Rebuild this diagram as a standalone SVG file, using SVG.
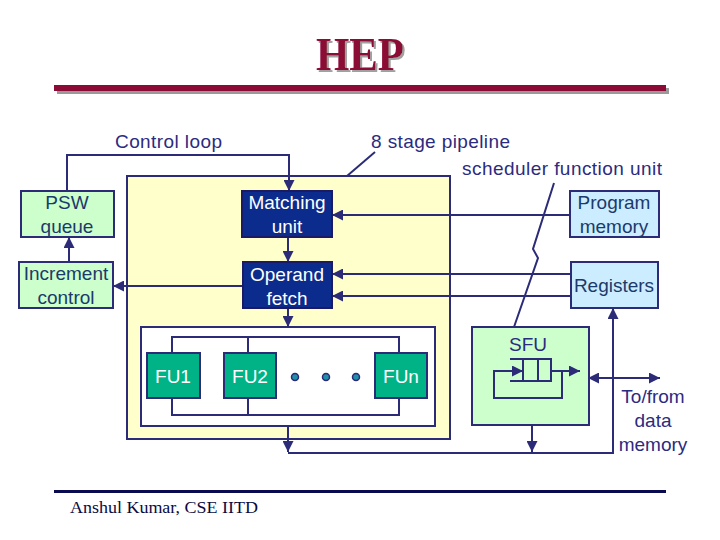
<svg xmlns="http://www.w3.org/2000/svg" width="720" height="540" viewBox="0 0 720 540">
<style>
.lbl{font-family:"Liberation Sans",Arial,sans-serif;font-size:19px;fill:#2B2B80}
.nt{font-family:"Liberation Sans",Arial,sans-serif;font-size:19px;fill:#1B3A6B;text-anchor:middle}
.wt{font-family:"Liberation Sans",Arial,sans-serif;font-size:19px;fill:#FFFFFF;text-anchor:middle}
.ln{fill:none;stroke:#2B2B78;stroke-width:2}
.lg{fill:#CCFFCC;stroke:#2B2B78;stroke-width:2}
.lb{fill:#CCECFF;stroke:#2B2B78;stroke-width:2}
.dk{fill:#0B2C8C;stroke:#1A1A66;stroke-width:2}
.fu{fill:#00B386;stroke:#2B2B78;stroke-width:2}
</style>
<defs>
<marker id="ah" viewBox="0 0 10 10" refX="10" refY="5" markerWidth="11" markerHeight="11" markerUnits="userSpaceOnUse" orient="auto-start-reverse">
<path d="M0,0 L10,5 L0,10 Z" fill="#2B2B78"/>
</marker>
<filter id="shadow" x="-10%" y="-10%" width="130%" height="130%">
<feDropShadow dx="2" dy="2" stdDeviation="0" flood-color="#A0A0A0" flood-opacity="1"/>
</filter>
</defs>
<rect width="720" height="540" fill="#FFFFFF"/>
<!-- title -->
<g id="title">
<text x="360" y="70" font-family="'Liberation Serif','Times New Roman',serif" font-weight="bold" font-size="46" fill="#8B0A36" text-anchor="middle" textLength="88" lengthAdjust="spacingAndGlyphs" filter="url(#shadow)">HEP</text>
<rect x="57" y="88" width="612" height="6" fill="#9A9A9A"/>
<rect x="54" y="85" width="612" height="6" fill="#8B0A36"/>
</g>
<!-- pipeline background -->
<g id="pipeline">
<rect x="127" y="176" width="323" height="263" fill="#FFFFCC" stroke="#2B2B78" stroke-width="2"/>
<rect x="141" y="327" width="294" height="99" fill="#FFFFFF" stroke="#2B2B78" stroke-width="2"/>
</g>
<!-- connectors -->
<g id="connectors">
<path class="ln" d="M67,191 V155 H289 V191" marker-end="url(#ah)"/>
<path class="ln" d="M69,262 V237" marker-end="url(#ah)"/>
<path class="ln" d="M288,237 V262" marker-end="url(#ah)"/>
<path class="ln" d="M243,286 H113" marker-end="url(#ah)"/>
<path class="ln" d="M570,215 H332" marker-end="url(#ah)"/>
<path class="ln" d="M571,274 H332" marker-end="url(#ah)"/>
<path class="ln" d="M571,296 H332" marker-end="url(#ah)"/>
<path class="ln" d="M288,308 V327" marker-end="url(#ah)"/>
<path class="ln" d="M172,353 V337 H399 V353 M248,337 V353"/>
<path class="ln" d="M172,398 V415 H399 V398 M248,398 V415"/>
<path class="ln" d="M288,426 V452" marker-end="url(#ah)"/>
<path class="ln" d="M288,453 H613 V308" marker-end="url(#ah)"/>
<path class="ln" d="M532,425 V452" marker-end="url(#ah)"/>
<path class="ln" d="M588,378 H660" marker-start="url(#ah)" marker-end="url(#ah)"/>
<path class="ln" d="M375,152 L347,176"/>
<path class="ln" d="M554,183 L533,249 L538,258 L514,327"/>
</g>
<!-- nodes -->
<g id="psw-queue">
<rect class="lg" x="21" y="191" width="93" height="46"/>
<text class="nt" x="67" y="209">PSW</text>
<text class="nt" x="67" y="233">queue</text>
</g>
<g id="increment-control">
<rect class="lg" x="19" y="262" width="94" height="46"/>
<text class="nt" x="66" y="280">Increment</text>
<text class="nt" x="66" y="304">control</text>
</g>
<g id="matching-unit">
<rect class="dk" x="242" y="191" width="90" height="46"/>
<text class="wt" x="287" y="209">Matching</text>
<text class="wt" x="287" y="233">unit</text>
</g>
<g id="operand-fetch">
<rect class="dk" x="243" y="262" width="89" height="46"/>
<text class="wt" x="287" y="281">Operand</text>
<text class="wt" x="287" y="305">fetch</text>
</g>
<g id="program-memory">
<rect class="lb" x="570" y="191" width="89" height="46"/>
<text class="nt" x="614" y="209">Program</text>
<text class="nt" x="614" y="233">memory</text>
</g>
<g id="registers">
<rect class="lb" x="571" y="262" width="87" height="46"/>
<text class="nt" x="614" y="292">Registers</text>
</g>
<g id="fu1">
<rect class="fu" x="147" y="353" width="53" height="45"/>
<text class="wt" x="173" y="383">FU1</text>
</g>
<g id="fu2">
<rect class="fu" x="224" y="353" width="52" height="45"/>
<text class="wt" x="250" y="383">FU2</text>
</g>
<g id="dots">
<circle cx="295" cy="377" r="3.5" fill="#1E90A8" stroke="#2B2B78" stroke-width="1.5"/>
<circle cx="326" cy="377" r="3.5" fill="#1E90A8" stroke="#2B2B78" stroke-width="1.5"/>
<circle cx="356" cy="377" r="3.5" fill="#1E90A8" stroke="#2B2B78" stroke-width="1.5"/>
</g>
<g id="fun">
<rect class="fu" x="375" y="353" width="52" height="45"/>
<text class="wt" x="401" y="383">FUn</text>
</g>
<g id="sfu">
<rect class="lg" x="472" y="327" width="117" height="98"/>
<text class="lbl" x="528" y="351" text-anchor="middle">SFU</text>
<rect x="523" y="359" width="28" height="22" fill="none" stroke="#2B2B78" stroke-width="2"/>
<path class="ln" d="M538,359 V381 M510,359 H523 M510,381 H523"/>
<path class="ln" d="M562,371 V398 H494 V371 H523" marker-end="url(#ah)"/>
<path class="ln" d="M551,371 H580" marker-end="url(#ah)"/>
</g>
<!-- labels -->
<g id="labels">
<text class="lbl" x="115" y="148" textLength="107" lengthAdjust="spacing">Control loop</text>
<text class="lbl" x="371" y="148" textLength="139" lengthAdjust="spacing">8 stage pipeline</text>
<text class="lbl" x="462" y="175" textLength="200" lengthAdjust="spacing">scheduler function unit</text>
<text class="lbl" x="653" y="403" text-anchor="middle">To/from</text>
<text class="lbl" x="653" y="427" text-anchor="middle">data</text>
<text class="lbl" x="653" y="451" text-anchor="middle">memory</text>
</g>
<g id="footer">
<rect x="54" y="490" width="612" height="3" fill="#0A0A50"/>
<text x="70" y="513" font-family="'Liberation Serif','Times New Roman',serif" font-size="17" fill="#0A0A40" textLength="188" lengthAdjust="spacingAndGlyphs">Anshul Kumar, CSE IITD</text>
</g>
</svg>
